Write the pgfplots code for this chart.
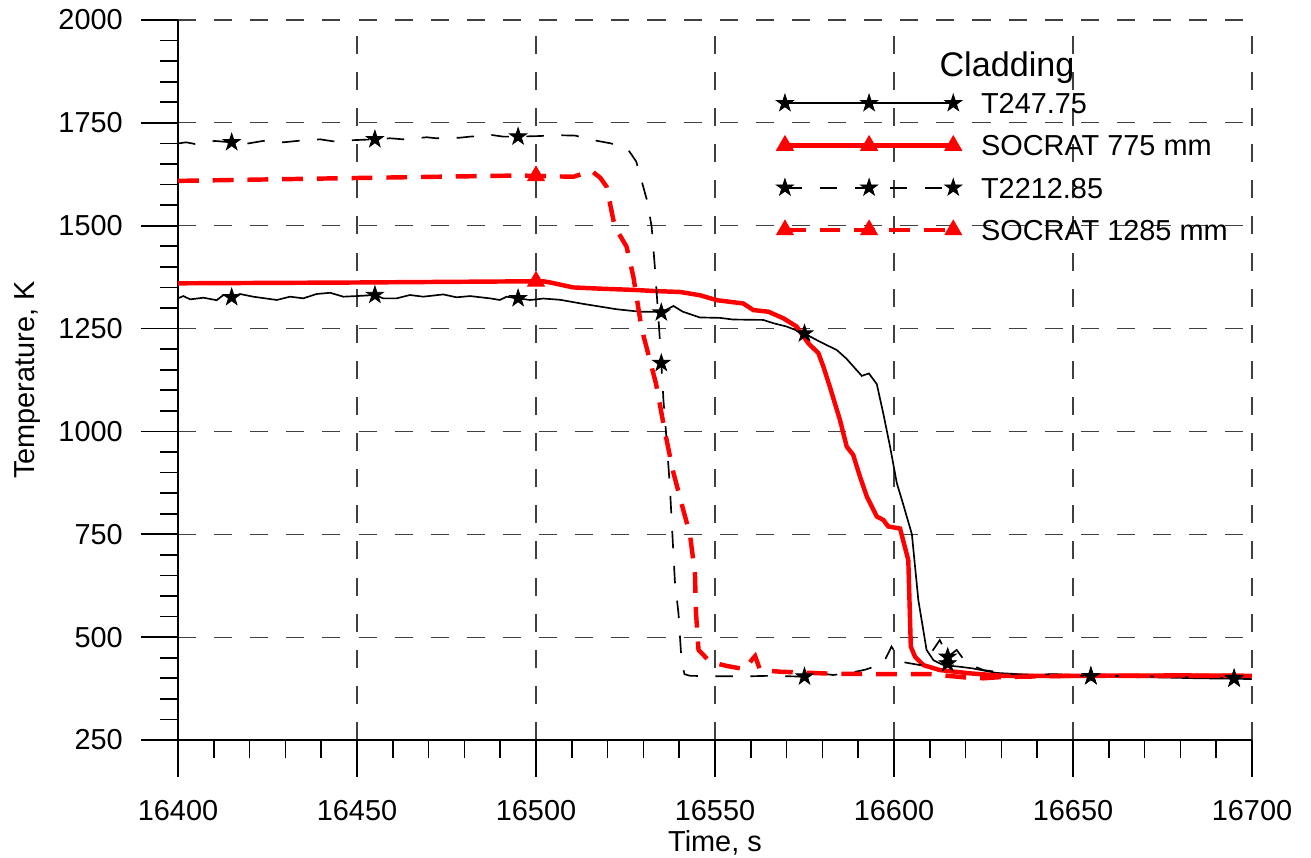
\documentclass[border=0pt]{standalone}
\usepackage{fontspec}
\setmainfont{Liberation Sans}
\usepackage{pgfplots}
\pgfplotsset{compat=1.18}
\pgfdeclareplotmark{fstar}{%
  \pgfpathmoveto{\pgfpointpolar{90}{\pgfplotmarksize}}%
  \pgfpathlineto{\pgfpointpolar{126}{0.382*\pgfplotmarksize}}%
  \pgfpathlineto{\pgfpointpolar{162}{\pgfplotmarksize}}%
  \pgfpathlineto{\pgfpointpolar{198}{0.382*\pgfplotmarksize}}%
  \pgfpathlineto{\pgfpointpolar{234}{\pgfplotmarksize}}%
  \pgfpathlineto{\pgfpointpolar{270}{0.382*\pgfplotmarksize}}%
  \pgfpathlineto{\pgfpointpolar{306}{\pgfplotmarksize}}%
  \pgfpathlineto{\pgfpointpolar{342}{0.382*\pgfplotmarksize}}%
  \pgfpathlineto{\pgfpointpolar{18}{\pgfplotmarksize}}%
  \pgfpathlineto{\pgfpointpolar{54}{0.382*\pgfplotmarksize}}%
  \pgfpathclose
  \pgfusepathqfillstroke}
\pgfplotsset{
  legstar/.style={legend image code/.code={%
    \path[draw=none, fill=none] (-6pt,0pt) -- (66.6pt,0pt);
    \draw[black, line width=0.6pt, #1] (0pt,0pt) -- (60.6pt,0pt);
    \path[draw=none, fill=none, mark=fstar, mark size=3.2pt, mark options={solid, fill=black, draw=black, line width=0.3pt}] plot coordinates {(0pt,0pt) (30.3pt,0pt) (60.6pt,0pt)};}},
  legtri/.style={legend image code/.code={%
    \path[draw=none, fill=none] (-6pt,0pt) -- (66.6pt,0pt);
    \draw[red, line width=1.6pt, #1] (0pt,0pt) -- (60.6pt,0pt);
    \path[draw=none, fill=none, mark=triangle*, mark size=3.5pt, mark options={solid, fill=red, draw=red, line width=0.3pt}] plot coordinates {(0pt,0pt) (30.3pt,0pt) (60.6pt,0pt)};}},
}
\begin{document}
\begin{tikzpicture}[font=\fontsize{10.4}{12.5}\selectfont]
\path[use as bounding box] (-64.08pt,-42.12pt) rectangle (407.88pt,266.4pt);
\begin{axis}[
  at={(0pt,0pt)}, anchor=south west,
  scale only axis, width=386.64pt, height=259.2pt,
  xmin=16400, xmax=16700, ymin=250, ymax=2000,
  xtick={16400,16450,...,16700}, ytick={250,500,...,2000},
  minor tick num=4,
  axis lines=left, axis line style={-, line width=0.6pt, black},
  tick align=outside,
  major tick length=13.2pt, minor tick length=6.5pt,
  tick style={black, line width=0.6pt},
  grid=major,
  major grid style={black!75, line width=0.4pt, dash pattern=on 6.5pt off 6.5pt},
  scaled ticks=false,
  /pgf/number format/1000 sep={},
  /pgf/number format/assume math mode=true,
  xticklabel style={anchor=north, inner sep=0pt, yshift=-8.15pt},
  yticklabel style={anchor=east, inner sep=0pt, xshift=-6.5pt},
  xlabel={Time, s}, ylabel={Temperature, K},
  xlabel style={at={(axis description cs:0.5,-0.1551)}, anchor=base, inner sep=0pt},
  ylabel style={at={(axis description cs:-0.1397,0.5)}, anchor=center, inner sep=0pt},
  legend style={at={(axis description cs:0.5496,0.9046)}, anchor=north west, draw=none, fill=none,
    inner sep=0pt, outer sep=0pt, row sep=4.7pt, column sep=4.0pt,
    nodes={inner sep=0pt, text height=9pt, text depth=1.5pt}, cells={anchor=west}},
  legend cell align=left,
]
% T247.75
\addplot[black, line width=0.6pt, legstar={solid}] coordinates {
(16400,1323.5) (16401.5,1329) (16403.4,1321) (16407.1,1325) (16410.8,1319) (16412.7,1331.6)
(16415,1326) (16417.3,1334) (16421,1327.5) (16427.6,1319.5) (16431.3,1327.5) (16435,1323.5)
(16438.7,1334) (16442.5,1337) (16446.2,1327.5) (16449.9,1329) (16455,1331.6) (16457.3,1323.5)
(16461.1,1323.5) (16464.8,1331.6) (16468.5,1327.5) (16474.1,1333) (16477.8,1326) (16481.6,1329)
(16487.1,1323.5) (16489.9,1319.5) (16491.8,1327.5) (16495,1323.5) (16498.3,1319.5) (16500.2,1321)
(16502,1323) (16506.7,1320) (16513.2,1310) (16522.5,1297) (16529,1291) (16533.7,1291) (16535,1289)
(16538.4,1305) (16541,1291) (16545.8,1277) (16551.4,1276) (16555,1272) (16563.5,1271) (16566.3,1263)
(16570,1255) (16575,1238) (16579.3,1218) (16584,1198) (16586.7,1177) (16591,1135) (16593,1141)
(16595.2,1115) (16597,1044) (16598.9,963) (16600.8,874) (16602.4,828) (16605,750) (16606.8,590)
(16609.1,469) (16611,444) (16613.8,432) (16618.4,428) (16622,424) (16628.6,413) (16635,410)
(16645,406) (16655,405) (16665,403) (16675,402) (16685,400) (16695,399) (16700,398)
};
\addlegendentry{T247.75}
% SOCRAT 775 mm
\addplot[red, line width=1.6pt, legtri={solid}] coordinates {
(16400,1360) (16450,1362) (16500,1365) (16502,1365) (16504,1362) (16510.4,1350) (16517.9,1347)
(16527.2,1344) (16533.7,1341) (16540.2,1339) (16545.8,1331) (16550.5,1319) (16557.9,1311)
(16560.7,1295) (16564.9,1291) (16569.1,1275) (16572.8,1255) (16576.1,1214) (16578.9,1190)
(16580.3,1157) (16582.1,1108) (16583.5,1068) (16584.9,1028) (16586.8,963) (16588.6,943)
(16590.5,890) (16592.4,842) (16595.2,793) (16597,785) (16598.4,769) (16601.7,764) (16604,687)
(16604.7,477) (16605.9,452) (16608.2,432) (16612.8,420) (16621.2,412) (16630.5,406) (16650,406)
(16680,407) (16700,406)
};
\addlegendentry{SOCRAT 775 mm}
% T2212.85
\addplot[black, line width=0.6pt, dash pattern=on 6.3pt off 6.3pt, legstar={dash pattern=on 6.3pt off 6.3pt}] coordinates {
(16400,1700) (16402.3,1702.7) (16404.7,1698.7) (16410.3,1706) (16415,1702.7) (16419.6,1700)
(16424.3,1706.8) (16429.4,1702.7) (16434.1,1706.8) (16439.7,1710) (16443.4,1705) (16449,1708)
(16455,1710) (16459.2,1712.5) (16462.9,1710) (16469.5,1715) (16472.2,1712.5) (16478.8,1714)
(16481.6,1716.5) (16487.6,1720.5) (16490.9,1716.5) (16495,1716.5) (16501,1718) (16506,1720)
(16511,1719) (16516,1708) (16521,1700) (16525.8,1684) (16528,1656) (16531,1562) (16532.3,1498)
(16533.2,1400) (16534.4,1250) (16535,1166) (16535.6,1076) (16536.3,1000) (16537.4,866)
(16538.1,750) (16538.8,635) (16539.8,558) (16540.7,436) (16541.5,410) (16543,406) (16550,405)
(16560,405) (16565,406) (16575,404) (16579.3,412) (16583,408) (16587.7,413) (16592,421)
(16597,436) (16599.3,477) (16602.1,440) (16607.3,432) (16610,457) (16612.8,493) (16615,452)
(16617.5,469) (16620.3,436) (16625,420) (16635,408) (16645,410) (16655,405) (16665,406)
(16675,404) (16685,402) (16695,400) (16700,400)
};
\addlegendentry{T2212.85}
% SOCRAT 1285 mm
\addplot[red, line width=1.6pt, dash pattern=on 7.5pt off 5pt, legtri={dash pattern=on 7.5pt off 5pt}] coordinates {
(16400,1609) (16450,1616) (16495,1622) (16500,1621) (16510.4,1619) (16513,1626) (16514.6,1633)
(16516,1630) (16518,1616) (16519.7,1595) (16522,1498) (16525.3,1449) (16527.2,1376)
(16529.5,1250) (16533.5,1117) (16536,1000) (16538.2,906) (16540.8,820) (16543,750) (16544.4,655)
(16544.7,558) (16545.4,469) (16548.6,440) (16553.3,430) (16558.4,422) (16560.2,444) (16561.2,454)
(16562.6,420) (16568.2,416) (16583,411) (16600,410) (16610,410) (16615,406) (16620,402)
(16625,400) (16630,403) (16650,406) (16700,406)
};
\addlegendentry{SOCRAT 1285 mm}
% markers
\addplot[only marks, forget plot, mark=fstar, mark size=3.2pt, mark options={fill=black, draw=black, line width=0.3pt}] coordinates {
(16415,1326) (16455,1331.6) (16495,1323.5) (16535,1289) (16575,1238) (16615,436) (16655,405) (16695,399)
};
\addplot[only marks, forget plot, mark=fstar, mark size=3.2pt, mark options={fill=black, draw=black, line width=0.3pt}] coordinates {
(16415,1702.7) (16455,1710) (16495,1716.5) (16535,1166) (16575,404) (16615,452) (16655,405) (16695,400)
};
\addplot[only marks, forget plot, mark=triangle*, mark size=3.5pt, mark options={fill=red, draw=red, line width=0.3pt}] coordinates {
(16500,1365) (16500,1621)
};
\node[font=\fontsize{12.3}{14}\selectfont, anchor=base] at (axis description cs:0.7719,0.9213) {Cladding};
\end{axis}
\end{tikzpicture}
\end{document}
